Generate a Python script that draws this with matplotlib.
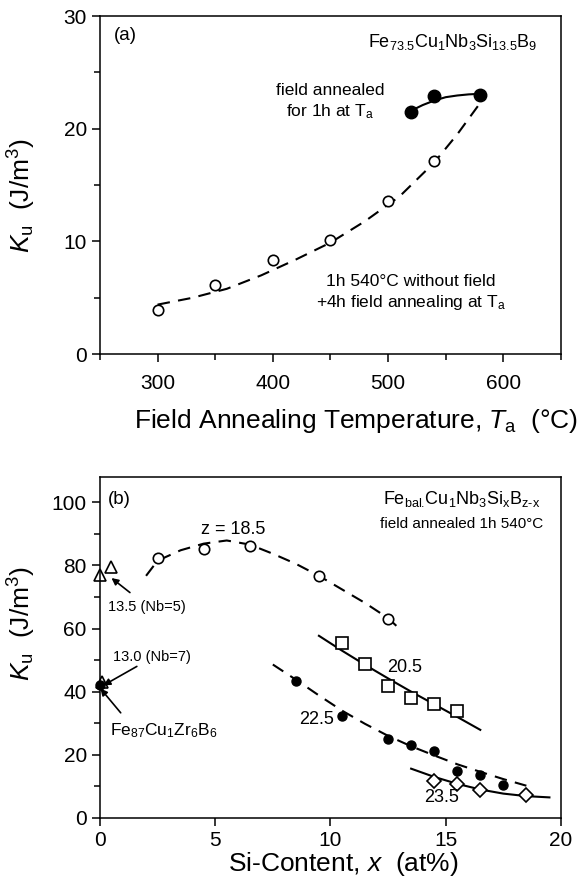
import numpy as np
import matplotlib
matplotlib.use("Agg")
import matplotlib.pyplot as plt

plt.rcParams['font.family'] = ['Liberation Sans', 'DejaVu Sans']
plt.rcParams['mathtext.fontset'] = 'custom'
plt.rcParams['mathtext.rm'] = 'Liberation Sans'
plt.rcParams['mathtext.it'] = 'Liberation Sans:italic'
plt.rcParams['mathtext.bf'] = 'Liberation Sans:bold'

# --- panel (a): Ku vs field annealing temperature ---
ta_open = [300, 350, 400, 450, 500, 540]
ku_open = [3.9, 6.1, 8.4, 10.1, 13.6, 17.1]
ta_filled = [520, 540, 580]
ku_filled = [21.5, 22.9, 23.0]

# guide curves
ta_dash = [300, 330, 360, 390, 420, 450, 480, 510, 540, 560, 580]
ku_dash = [4.4, 5.0, 5.8, 7.0, 8.4, 9.9, 11.8, 14.0, 17.0, 19.5, 22.3]
ta_solid = [520, 530, 540, 550, 560, 570, 580]
ku_solid = [21.6, 22.1, 22.5, 22.8, 22.95, 23.05, 23.1]

# --- panel (b): Ku vs Si content ---
x_185 = [2.5, 4.5, 6.5, 9.5, 12.5]
k_185 = [82.4, 85.1, 86.1, 76.7, 63.1]
x_205 = [10.5, 11.5, 12.5, 13.5, 14.5, 15.5]
k_205 = [55.3, 48.8, 41.8, 38.1, 36.2, 34.0]
x_225 = [8.5, 10.5, 12.5, 13.5, 14.5, 15.5, 16.5, 17.5]
k_225 = [43.5, 32.2, 25.0, 23.1, 21.1, 15.0, 13.7, 10.5]
x_235 = [14.5, 15.5, 16.5, 18.5]
k_235 = [11.8, 10.7, 8.8, 7.2]
x_tri = [0.0, 0.5, 0.1]
k_tri = [77.0, 79.5, 43.0]
x_zr = [0.0]
k_zr = [42.0]

fx_185 = [2.0, 2.5, 3.5, 4.5, 5.5, 6.5, 7.5, 8.5, 9.5, 10.5, 11.5, 12.5, 13.0]
fk_185 = [76.7, 81.5, 84.8, 86.9, 87.9, 86.6, 83.7, 80.5, 76.7, 72.4, 68.1, 63.3, 59.9]
fx_205 = [9.5, 10.5, 11.5, 12.5, 13.5, 14.5, 15.5, 16.5]
fk_205 = [57.7, 53.0, 48.5, 44.2, 40.0, 36.0, 32.0, 27.9]
fx_225 = [7.5, 8.5, 9.5, 10.5, 11.5, 12.5, 13.5, 14.5, 15.5, 16.5, 17.5, 18.5]
fk_225 = [48.6, 43.8, 38.8, 34.0, 29.8, 26.0, 22.7, 19.8, 17.0, 14.6, 12.3, 10.2]
fx_235 = [13.5, 14.5, 15.5, 16.5, 17.5, 18.5, 19.5]
fk_235 = [15.6, 13.0, 10.8, 9.0, 7.7, 6.9, 6.5]

DASH = (0, (6, 4))
LW = 1.5

fig = plt.figure(figsize=(5.88, 8.90), dpi=100)
ax1 = fig.add_axes([0.170, 0.602, 0.784, 0.380])
ax2 = fig.add_axes([0.170, 0.081, 0.784, 0.383])

for ax in (ax1, ax2):
    for s in ax.spines.values():
        s.set_linewidth(1.1)
    ax.tick_params(which='both', direction='out', top=False, right=False,
                   labelsize=15, width=1.1)
    ax.tick_params(which='major', length=6)
    ax.tick_params(which='minor', length=4)
ax1.tick_params(axis='x', which='both', pad=8)

# panel (a)
ax1.plot(ta_dash, ku_dash, color='black', lw=LW, linestyle=DASH)
ax1.plot(ta_solid, ku_solid, color='black', lw=LW)
ax1.plot(ta_open, ku_open, 'o', ms=7.5, mfc='white', mec='black', mew=1.2)
ax1.plot(ta_filled, ku_filled, 'o', ms=9, mfc='black', mec='black')
ax1.set_xlim(250, 650)
ax1.set_ylim(0, 30)
ax1.set_xticks([300, 400, 500, 600])
ax1.set_xticks([250, 350, 450, 550, 650], minor=True)
ax1.set_yticks([0, 10, 20, 30])
ax1.set_yticks([5, 15, 25], minor=True)
ax1.set_xlabel(r'Field Annealing Temperature, $T_{\rm a}$  (°C)', fontsize=19)
ax1.set_ylabel(r'$K_{\rm u}$  (J/m$^3$)', fontsize=19)
ax1.xaxis.set_label_coords(0.555, -0.155)
ax1.yaxis.set_label_coords(-0.135, 0.47)
ax1.text(262, 28.3, '(a)', fontsize=13.5, ha='left', va='center')
ax1.text(630, 27.7, r'Fe$_{73.5}$Cu$_1$Nb$_3$Si$_{13.5}$B$_9$', fontsize=13,
         ha='right', va='center')
ax1.text(450, 22.4, 'field annealed\n' + r'for 1h at T$_{\rm a}$', fontsize=12.5,
         ha='center', va='center', linespacing=1.3)
ax1.text(520, 5.4, '1h 540°C without field\n' + r'+4h field annealing at T$_{\rm a}$',
         fontsize=12.5, ha='center', va='center', linespacing=1.3)

# panel (b)
ax2.plot(fx_185, fk_185, color='black', lw=LW, linestyle=DASH)
ax2.plot(fx_205, fk_205, color='black', lw=LW)
ax2.plot(fx_225, fk_225, color='black', lw=LW, linestyle=DASH)
ax2.plot(fx_235, fk_235, color='black', lw=LW)
ax2.plot(x_185, k_185, 'o', ms=7.5, mfc='white', mec='black', mew=1.2)
ax2.plot(x_205, k_205, 's', ms=8, mfc='white', mec='black', mew=1.2)
ax2.plot(x_225, k_225, 'o', ms=6.5, mfc='black', mec='black')
ax2.plot(x_235, k_235, 'D', ms=7, mfc='white', mec='black', mew=1.2)
ax2.plot(x_tri, k_tri, '^', ms=8.5, mfc='white', mec='black', mew=1.2, clip_on=False)
ax2.plot(x_zr, k_zr, 'o', ms=6.5, mfc='black', mec='black', clip_on=False)
ax2.set_xlim(0, 20)
ax2.set_ylim(0, 108)
ax2.set_xticks([0, 5, 10, 15, 20])
ax2.set_yticks([0, 20, 40, 60, 80, 100])
ax2.set_yticks([10, 30, 50, 70, 90], minor=True)
ax2.set_xlabel(r'Si-Content, $x$  (at%)', fontsize=19)
ax2.set_ylabel(r'$K_{\rm u}$  (J/m$^3$)', fontsize=19)
ax2.xaxis.set_label_coords(0.528, -0.095)
ax2.yaxis.set_label_coords(-0.135, 0.569)

ax2.text(0.35, 101, '(b)', fontsize=13.5, ha='left', va='center')
ax2.text(15.7, 101, r'Fe$_{\text{bal.}}$Cu$_1$Nb$_3$Si$_{\text{x}}$B$_{\text{z-x}}$',
         fontsize=13, ha='center', va='center')
ax2.text(15.7, 93, 'field annealed 1h 540°C', fontsize=11, ha='center', va='center')
ax2.text(5.8, 91.4, 'z = 18.5', fontsize=13, ha='center', va='center')
ax2.text(13.2, 47.7, '20.5', fontsize=13, ha='center', va='center')
ax2.text(9.4, 31.1, '22.5', fontsize=13, ha='center', va='center')
ax2.text(14.8, 6.4, '23.5', fontsize=13, ha='center', va='center')

arrow = dict(arrowstyle='-|>', color='black', lw=1.2, mutation_scale=10,
             shrinkA=0, shrinkB=0)
ax2.annotate('', xy=(0.5, 76.0), xytext=(1.3, 71.4), arrowprops=arrow)
ax2.text(0.35, 66.7, '13.5 (Nb=5)', fontsize=10.5, ha='left', va='center')
ax2.annotate('', xy=(0.15, 42.0), xytext=(1.6, 48.0), arrowprops=arrow)
ax2.text(0.56, 51.0, '13.0 (Nb=7)', fontsize=10.5, ha='left', va='center')
ax2.annotate('', xy=(0.02, 41.0), xytext=(0.9, 33.3), arrowprops=arrow)
ax2.text(0.45, 27.5, r'Fe$_{87}$Cu$_1$Zr$_6$B$_6$', fontsize=12.5, ha='left', va='center')

fig.savefig('out.png', dpi=100)
